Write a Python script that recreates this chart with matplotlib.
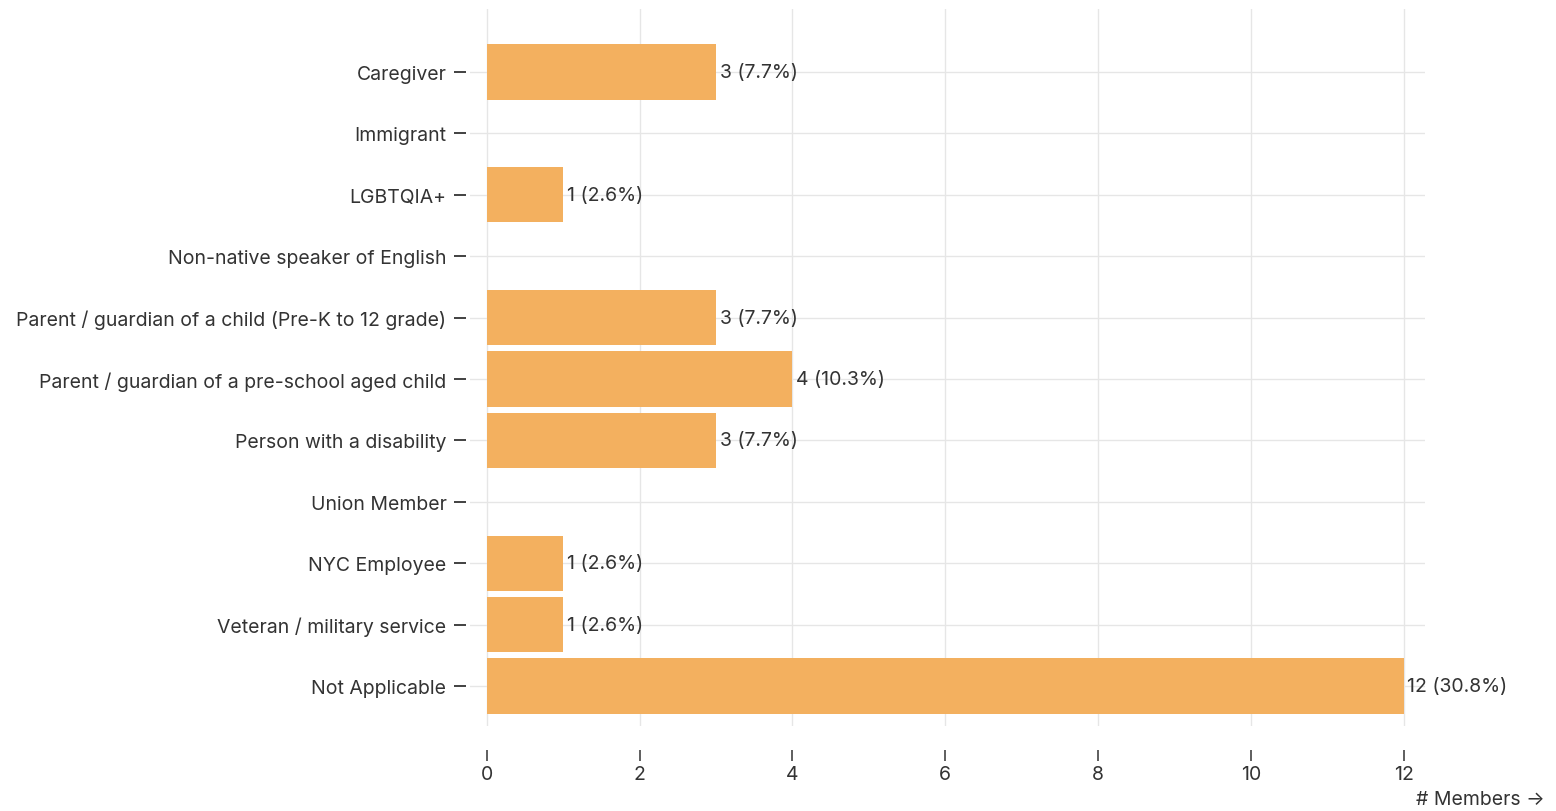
import matplotlib.pyplot as plt

# data
categories = ["Caregiver", "Immigrant", "LGBTQIA+", "Non-native speaker of English",
              "Parent / guardian of a child (Pre-K to 12 grade)",
              "Parent / guardian of a pre-school aged child",
              "Person with a disability", "Union Member", "NYC Employee",
              "Veteran / military service", "Not Applicable"]
members = [3, 0, 1, 0, 3, 4, 3, 0, 1, 1, 12]
percents = [7.7, 0, 2.6, 0, 7.7, 10.3, 7.7, 0, 2.6, 2.6, 30.8]
xticks = [0, 2, 4, 6, 8, 10, 12]

plt.rcParams['font.family'] = ['Inter', 'DejaVu Sans']
txt = '#333333'
fs = 14

W, H = 1556, 812
fig = plt.figure(figsize=(W / 100, H / 100), dpi=100)
ax = fig.add_axes([470 / W, 1 - 727 / H, (1425 - 470) / W, (727 - 10) / H])

y = list(range(len(categories)))
ax.barh(y, members, height=0.9, color='#f3b05f', zorder=2)

# value labels next to the bars
for i, (v, p) in enumerate(zip(members, percents)):
    if v > 0:
        ax.text(v + 0.05, i, f"{v} ({p}%)", va='center', ha='left',
                fontsize=fs, color=txt, zorder=3)

ax.set_xlim(-0.22, 12.28)
ax.set_ylim(10.65, -1.026)
ax.set_yticks(y)
ax.set_yticklabels(categories)
ax.set_xticks(xticks)

for s in ax.spines.values():
    s.set_visible(False)
ax.spines['left'].set_position(('outward', 3))
ax.spines['bottom'].set_position(('outward', 17))

ax.tick_params(axis='y', length=9, width=1.3, color=txt, pad=5,
               labelsize=fs, labelcolor=txt)
ax.tick_params(axis='x', length=8, width=1.1, color=txt, pad=3,
               labelsize=fs, labelcolor=txt)

ax.grid(True, color='#e6e6e6', linewidth=1, zorder=0)
ax.set_axisbelow(True)

fig.text(1545 / W, 1 - 800 / H, "# Members \u2192", ha='right', va='center',
         fontsize=fs, color=txt)

fig.savefig('out.png', dpi=100)
